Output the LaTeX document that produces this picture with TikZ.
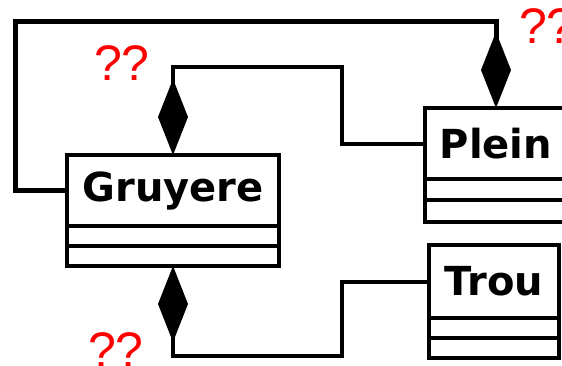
\documentclass[tikz,border=0pt]{standalone}
\usepackage{fontspec}
\newfontfamily\classfont{DejaVu Sans}
\newfontfamily\notefont{Liberation Sans}
\usetikzlibrary{arrows.meta, positioning}

\begin{document}
\begin{tikzpicture}[x=1pt, y=-1pt,
    cls/.style={rectangle, draw, line width=4pt, minimum width=#1, minimum height=71pt, inner sep=0pt, outer sep=0pt, font=\classfont\bfseries\fontsize{40}{40}\selectfont},
    part/.style={rectangle, draw, line width=4pt, minimum width=#1, minimum height=20pt, inner sep=0pt, outer sep=0pt},
    comp/.style={-{Diamond[length=76pt, width=30pt]}, line width=4pt},
    note/.style={red, inner sep=0pt, font=\notefont\fontsize{50}{50}\selectfont}
  ]
  \useasboundingbox (0,0) rectangle (562,365);
  \clip (0,0) rectangle (562,365);

  % classes
  \node[cls=212pt, anchor=north west] (gru) at (67,155) {Gruyere};
  \node[part=212pt, below=0pt of gru] (gru1) {};
  \node[part=212pt, below=0pt of gru1] (gru2) {};

  \node[cls=142pt, anchor=north west] (plein) at (425,108) {Plein};
  \node[part=142pt, minimum height=21pt, below=0pt of plein] (plein1) {};
  \node[part=142pt, minimum height=22pt, below=0pt of plein1] (plein2) {};

  \node[cls=130pt, minimum height=73pt, anchor=north west] (trou) at (429,245) {Trou};
  \node[part=130pt, below=0pt of trou] (trou1) {};
  \node[part=130pt, below=0pt of trou1] (trou2) {};

  % bends of the links
  \coordinate (up) at (342,67);
  \coordinate (down) at (342,356);
  \coordinate (round) at (15,21);

  \draw[comp] (plein.west) -| (up) -| (gru.north);
  \draw[comp] (trou.west) -| (down) -| (gru2.south);
  \draw[comp, line width=5pt] (gru.west) -| (round) -| (plein.north);

  % multiplicities
  \node[note, anchor=base] (m1) at (122,80) {??};
  \node[note, anchor=base] (m2) at (547,43) {??};
  \node[note, anchor=base] (m3) at (116,367) {??};
\end{tikzpicture}
\end{document}
